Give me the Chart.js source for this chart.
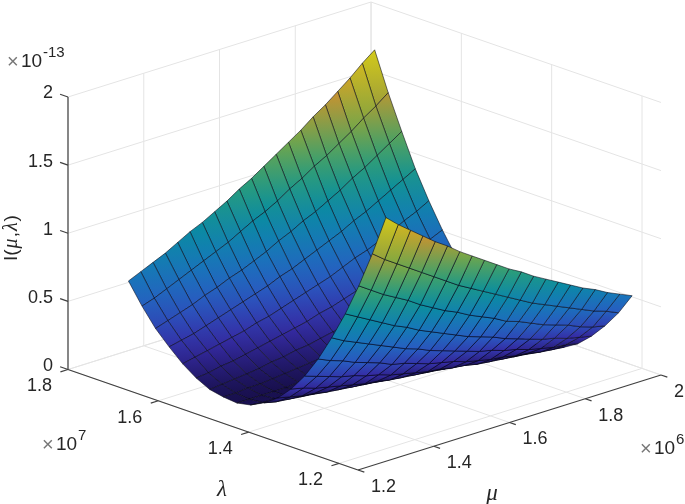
<!DOCTYPE html>
<html>
<head>
<meta charset="utf-8">
<script src="https://cdn.jsdelivr.net/npm/chart.js@4"></script>
<style>
  html, body { margin: 0; padding: 0; background: #fff; }
  canvas { display: block; }
</style>
</head>
<body>
<canvas id="chart-surface" width="685" height="504"></canvas>
<script>
const muValues = [1.3,1.3325,1.365,1.3975,1.43,1.4625,1.495,1.5275,1.56,1.5925,1.625,1.6575,1.69,1.7225,1.755,1.7875,1.82,1.8525,1.885,1.9175,1.95]
const lambdaValues = [1.18,1.21,1.24,1.27,1.30,1.33,1.36,1.39,1.42,1.45,1.48,1.51,1.54,1.57,1.60,1.63,1.66,1.69,1.72,1.75]

// one row per mu, one column per lambda, in units of 1e-13
const zValues = [
  [1.74,1.44,1.17,.93,.72,.53,.37,.24,.14,.07,.02,0,.01,.03,.08,.15,.24,.34,.47,.62],
  [1.66,1.37,1.11,.88,.67,.49,.34,.22,.12,.05,.01,0,.01,.04,.09,.17,.26,.37,.50,.66],
  [1.59,1.31,1.05,.83,.63,.46,.31,.19,.10,.04,.01,0,.02,.05,.11,.19,.28,.40,.54,.70],
  [1.52,1.25,1.00,.78,.59,.42,.28,.17,.09,.03,0,0,.02,.06,.12,.21,.31,.43,.58,.74],
  [1.45,1.19,.95,.73,.55,.39,.26,.15,.07,.02,0,0,.03,.07,.14,.23,.34,.47,.62,.79],
  [1.39,1.13,.89,.69,.51,.36,.23,.13,.06,.02,0,.01,.04,.09,.16,.25,.37,.50,.66,.84],
  [1.32,1.07,.84,.64,.47,.32,.21,.11,.05,.01,0,.01,.05,.10,.18,.28,.40,.54,.70,.88],
  [1.26,1.01,.79,.60,.44,.30,.18,.10,.04,.01,0,.02,.06,.12,.20,.30,.43,.57,.74,.93],
  [1.20,.96,.75,.56,.40,.27,.16,.08,.03,0,0,.02,.07,.13,.22,.33,.46,.61,.79,.98],
  [1.14,.91,.70,.52,.37,.24,.14,.07,.02,0,.01,.03,.08,.15,.24,.36,.50,.65,.84,1.04],
  [1.08,.86,.66,.48,.34,.22,.12,.06,.02,0,.01,.04,.09,.17,.27,.39,.53,.70,.88,1.09],
  [1.03,.81,.62,.45,.31,.20,.11,.05,.01,0,.01,.05,.11,.19,.29,.42,.57,.74,.93,1.15],
  [.97,.76,.57,.42,.28,.17,.09,.04,.01,0,.02,.06,.13,.21,.32,.45,.61,.79,.99,1.21],
  [.92,.71,.54,.38,.26,.15,.08,.03,0,0,.03,.07,.14,.24,.35,.49,.65,.83,1.04,1.27],
  [.87,.67,.50,.35,.23,.13,.06,.02,0,.01,.04,.09,.16,.26,.38,.53,.69,.88,1.10,1.33],
  [.82,.63,.46,.32,.21,.12,.05,.01,0,.01,.04,.10,.18,.29,.41,.56,.74,.93,1.15,1.40],
  [.77,.59,.43,.29,.18,.10,.04,.01,0,.02,.06,.12,.20,.31,.45,.60,.78,.99,1.21,1.46],
  [.73,.55,.40,.27,.16,.09,.03,0,0,.02,.07,.13,.23,.34,.48,.64,.83,1.04,1.27,1.53],
  [.68,.51,.36,.24,.14,.07,.02,0,0,.03,.08,.15,.25,.37,.52,.69,.88,1.10,1.34,1.60],
  [.64,.48,.33,.22,.13,.06,.02,0,.01,.04,.09,.17,.28,.40,.56,.73,.93,1.16,1.40,1.68],
  [.60,.44,.31,.20,.11,.05,.01,0,.01,.05,.11,.19,.30,.44,.60,.78,.98,1.22,1.47,1.75]
]

const muTicks = [1.2,1.4,1.6,1.8,2]
const lambdaTicks = [1.8,1.6,1.4,1.2]
const zTicks = [0,0.5,1,1.5,2]
const muTickLabels = ['1.2','1.4','1.6','1.8','2']
const lambdaTickLabels = ['1.8','1.6','1.4','1.2']
const zTickLabels = ['0','0.5','1','1.5','2']

const muLim = [1.2,2]
const lambdaLim = [1.158,1.8]
const zLim = [0,2]

// colour stops of the surface, tuned by eye against the picture
const parula = [[28,18,90],[62,50,190],[48,105,225],[25,140,215],[10,165,185],[55,185,135],[150,195,75],[235,170,55],[245,235,30]]
const colorMax = 1.75
// the reference is darkened by its dense mesh lines
const shade = 0.86

const textColor = '#262626'
const axisColor = '#404040'
const gridColor = '#e4e4e4'
const meshColor = 'rgba(5,5,20,0.8)'
const tickFont = '18px "Liberation Sans"'

// axonometric view of the box
function project(mu, lambda, z){
  return {
    x: 68 + (mu - 1.2) * 378.75 + (1.8 - lambda) * 451.7,
    y: 369.5 - (mu - 1.2) * 118.75 + (1.8 - lambda) * 156.5 - z * 136.25
  }
}

function surfaceColor(z){
  const t = Math.min(z / colorMax, 1) * (parula.length - 1)
  const i = Math.min(Math.floor(t), parula.length - 2)
  const f = t - i
  const c = parula[i].map((v, k) => Math.round((v + (parula[i + 1][k] - v) * f) * shade))
  return 'rgb(' + c.join(',') + ')'
}

function lineSet(points, color, width){
  return {
    data: points,
    borderColor: color,
    borderWidth: width,
    pointRadius: 0,
    fill: false,
    tension: 0
  }
}

function cellSet(i, j){
  const corners = [[i,j],[i+1,j],[i+1,j+1],[i,j+1]].map(c => ({
    p: project(muValues[c[0]], lambdaValues[c[1]], zValues[c[0]][c[1]]),
    z: zValues[c[0]][c[1]]
  }))
  const low = corners.reduce((a, b) => b.z < a.z ? b : a)
  const high = corners.reduce((a, b) => b.z > a.z ? b : a)
  return {
    data: corners.concat(corners[0]).map(c => c.p),
    borderColor: meshColor,
    borderWidth: 0.7,
    pointRadius: 0,
    tension: 0,
    fill: 'shape',
    backgroundColor: ctx => {
      const x0 = ctx.chart.scales.x.getPixelForValue(low.p.x)
      const y0 = ctx.chart.scales.y.getPixelForValue(low.p.y)
      const x1 = ctx.chart.scales.x.getPixelForValue(high.p.x)
      const y1 = ctx.chart.scales.y.getPixelForValue(high.p.y)
      // scales have no pixels yet on the first pass, and a flat cell has no gradient
      if (![x0, y0, x1, y1].every(Number.isFinite) || low === high) return surfaceColor(low.z)
      const g = ctx.chart.ctx.createLinearGradient(x0, y0, x1, y1)
      g.addColorStop(0, surfaceColor(low.z))
      g.addColorStop(1, surfaceColor(high.z))
      return g
    }
  }
}

const datasets = []

// chart.js paints the first dataset last, so the nearest cell goes first
for (let i = 0; i < muValues.length - 1; i++){
  for (let j = 0; j < lambdaValues.length - 1; j++){
    datasets.push(cellSet(i, j))
  }
}

const lambdaLow = lambdaLim[0]
const lambdaHigh = lambdaLim[1]
const muLow = muLim[0]
const muHigh = muLim[1]
const zTop = zLim[1]

// axis lines and tick marks
datasets.push(lineSet([project(muLow,lambdaHigh,0), project(muLow,lambdaHigh,zTop)], axisColor, 1.2))
datasets.push(lineSet([project(muLow,lambdaHigh,0), project(muLow,lambdaLow,0)], axisColor, 1.2))
datasets.push(lineSet([project(muLow,lambdaLow,0), project(muHigh,lambdaLow,0)], axisColor, 1.2))
zTicks.forEach(z => datasets.push(lineSet([project(muLow,lambdaHigh,z), project(muLow,lambdaHigh + 0.0175,z)], axisColor, 1.2)))
lambdaTicks.forEach(l => datasets.push(lineSet([project(muLow,l,0), project(muLow - 0.02,l,0)], axisColor, 1.2)))
muTicks.forEach(m => datasets.push(lineSet([project(m,lambdaLow,0), project(m,lambdaLow - 0.014,0)], axisColor, 1.2)))

// grid on the floor and the two back walls
muTicks.forEach(m => {
  datasets.push(lineSet([project(m,lambdaHigh,0), project(m,lambdaLow,0)], gridColor, 1))
  datasets.push(lineSet([project(m,lambdaHigh,0), project(m,lambdaHigh,zTop)], gridColor, 1))
})
lambdaTicks.forEach(l => {
  datasets.push(lineSet([project(muLow,l,0), project(muHigh,l,0)], gridColor, 1))
  datasets.push(lineSet([project(muHigh,l,0), project(muHigh,l,zTop)], gridColor, 1))
})
zTicks.forEach(z => {
  datasets.push(lineSet([project(muLow,lambdaHigh,z), project(muHigh,lambdaHigh,z)], gridColor, 1))
  datasets.push(lineSet([project(muHigh,lambdaHigh,z), project(muHigh,lambdaLow,z)], gridColor, 1))
})

function put(ctx, str, x, y, font, color, align){
  ctx.font = font
  ctx.fillStyle = color
  ctx.textAlign = align || 'left'
  ctx.textBaseline = 'middle'
  ctx.fillText(str, x, y)
}

function putExponent(ctx, x, y, exp){
  put(ctx, '\u00d7', x, y, '20px "Liberation Sans"', '#777777')
  put(ctx, '10', x + 14, y, '19px "Liberation Sans"', textColor)
  put(ctx, exp, x + 36, y - 9, '15px "Liberation Sans"', textColor)
}

const axisText = {
  id: 'axisText',
  afterDatasetsDraw(chart){
    const ctx = chart.ctx
    const xs = chart.scales.x
    const ys = chart.scales.y
    const at = p => ({ x: xs.getPixelForValue(p.x), y: ys.getPixelForValue(p.y) })
    ctx.save()

    zTicks.forEach((z, n) => {
      const p = at(project(muLow,lambdaHigh,z))
      put(ctx, zTickLabels[n], p.x - 15, p.y - 3.5, tickFont, textColor, 'right')
    })
    lambdaTicks.forEach((l, n) => {
      const p = at(project(muLow,l,0))
      put(ctx, lambdaTickLabels[n], p.x - 16, p.y + 17, tickFont, textColor, 'right')
    })
    muTicks.forEach((m, n) => {
      const p = at(project(m,lambdaLow,0))
      put(ctx, muTickLabels[n], p.x + 13, p.y + 17, tickFont, textColor)
    })

    putExponent(ctx, 7, 62, '-13')
    putExponent(ctx, 42, 445, '7')
    putExponent(ctx, 640, 449, '6')

    put(ctx, '\u03bb', 222, 490, 'italic 23px "Liberation Serif"', textColor, 'center')
    put(ctx, '\u03bc', 492, 494, 'italic 23px "Liberation Serif"', textColor, 'center')

    // vertical z label, built from pieces because mu and lambda are italic
    ctx.translate(12, 261)
    ctx.rotate(-Math.PI / 2)
    let pos = 0
    const pieces = [
      ['I(', '19px "Liberation Sans"'],
      ['\u03bc', 'italic 20px "Liberation Serif"'],
      [',', '19px "Liberation Sans"'],
      ['\u03bb', 'italic 20px "Liberation Serif"'],
      [')', '19px "Liberation Sans"']
    ]
    pieces.forEach(piece => {
      put(ctx, piece[0], pos, 0, piece[1], textColor)
      pos += ctx.measureText(piece[0]).width + 1
    })
    ctx.restore()
  }
}

new Chart(document.getElementById('chart-surface').getContext('2d'), {
  type: 'line',
  data: { datasets: datasets },
  plugins: [axisText],
  options: {
    responsive: false,
    animation: false,
    events: [],
    layout: { padding: 0 },
    plugins: {
      legend: { display: false },
      tooltip: { enabled: false },
      title: { display: false }
    },
    scales: {
      x: { type: 'linear', display: false, min: 0, max: 685 },
      y: { type: 'linear', display: false, min: 0, max: 504, reverse: true }
    }
  }
})
</script>
</body>
</html>
